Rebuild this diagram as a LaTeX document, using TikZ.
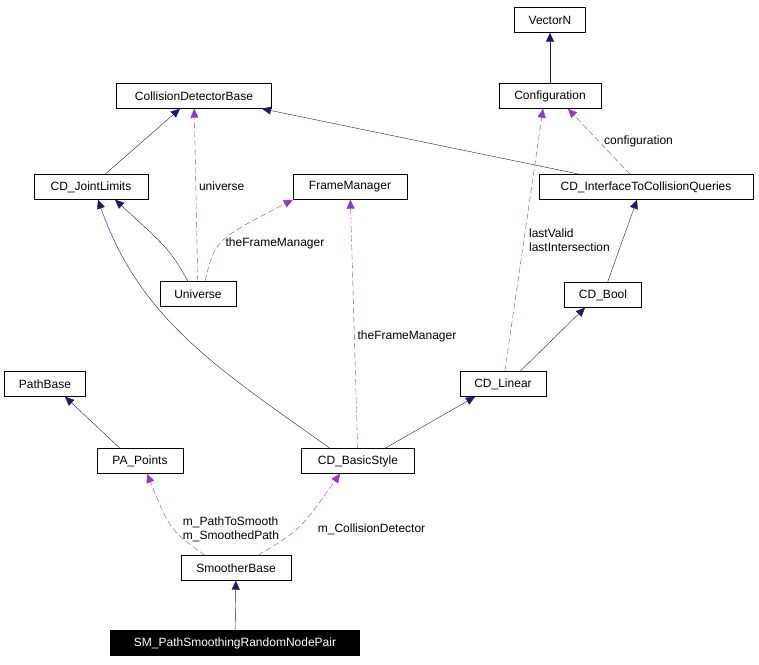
\documentclass[tikz,border=0pt]{standalone}
\usepackage{fontspec}
\setmainfont{Liberation Sans}
\usetikzlibrary{arrows.meta}
\definecolor{inh}{HTML}{191970}
\definecolor{use}{HTML}{9A32CD}
\tikzset{
  cls/.style={draw,fill=white,inner sep=0pt,minimum height=25pt,font=\fontsize{12}{14}\selectfont},
  base/.style={draw=inh,-{Triangle[length=9pt,width=8pt,fill=inh]}},
  uses/.style={draw=use,dash pattern=on 6pt off 3pt,-{Triangle[length=9pt,width=8pt,fill=use]}},
  lbl/.style={font=\fontsize{12}{14}\selectfont,align=left,inner sep=1pt}
}
\begin{document}
\begin{tikzpicture}[x=1pt,y=-1pt]
\useasboundingbox (0,0) rectangle (759,664);
% classes
\node[cls,minimum width=71pt]  (vec)  at (550,20)  {VectorN};
\node[cls,minimum width=102pt] (conf) at (550,96)  {Configuration};
\node[cls,minimum width=155pt] (cdb)  at (194,96)  {CollisionDetectorBase};
\node[cls,minimum width=114pt] (jl)   at (91,187)  {CD\_JointLimits};
\node[cls,minimum width=114pt] (fm)   at (350,187) {FrameManager};
\node[cls,minimum width=214pt] (itc)  at (646,187) {CD\_InterfaceToCollisionQueries};
\node[cls,minimum width=76pt]  (uni)  at (198,294) {Universe};
\node[cls,minimum width=77pt]  (bool) at (603,295) {CD\_Bool};
\node[cls,minimum width=81pt]  (pb)   at (45,384)  {PathBase};
\node[cls,minimum width=86pt]  (lin)  at (503,384) {CD\_Linear};
\node[cls,minimum width=86pt]  (pap)  at (140,461) {PA\_Points};
\node[cls,minimum width=113pt] (bs)   at (358,461) {CD\_BasicStyle};
\node[cls,minimum width=110pt] (sb)   at (236,568) {SmootherBase};
\node[cls,minimum width=249pt,fill=black,text=white] (sm) at (235,643) {SM\_PathSmoothingRandomNodePair};
% inheritance
\draw[base] ([xshift=14pt]jl.north) -- ([xshift=-14pt]cdb.south);
\draw[base] ([xshift=-66pt]itc.north) -- ([xshift=68pt]cdb.south);
\draw[base] (conf) -- (vec);
\draw[base] ([xshift=-10pt]uni.north) .. controls (170,250) .. ([xshift=24pt]jl.south);
\draw[base] ([xshift=-28pt]bs.north) .. controls (220,370) and (140,320) .. ([xshift=7pt]jl.south);
\draw[base] ([xshift=27pt]bs.north) -- ([xshift=-28pt]lin.south);
\draw[base] ([xshift=17pt]lin.north) -- ([xshift=-18pt]bool.south);
\draw[base] (bool) -- ([xshift=-9pt]itc.south);
\draw[base] ([xshift=-20pt]pap.north) -- ([xshift=20pt]pb.south);
\draw[base] (sm) -- (sb);
% usage
\draw[uses] (uni) -- (cdb) node[lbl,pos=0.55,right=2pt] {universe};
\draw[uses] ([xshift=7pt]uni.north) .. controls (215,240) .. (fm.south west) node[lbl,pos=0.45,right=4pt] {theFrameManager};
\draw[uses] (bs) -- (fm) node[lbl,pos=0.45,right=2pt] {theFrameManager};
\draw[uses] (lin) -- ([xshift=-7pt]conf.south) node[lbl,pos=0.5,right=4pt] {lastValid\\lastIntersection};
\draw[uses] ([xshift=-16pt]itc.north) -- ([xshift=18pt]conf.south) node[lbl,pos=0.5,right=4pt] {configuration};
\draw[uses] ([xshift=-31pt]sb.north) .. controls (170,530) .. ([xshift=7pt]pap.south) node[lbl,pos=0.45,right=8pt] {m\_PathToSmooth\\m\_SmoothedPath};
\draw[uses] ([xshift=22pt]sb.north) .. controls (300,530) .. ([xshift=-18pt]bs.south) node[lbl,pos=0.45,right=20pt] {m\_CollisionDetector};
\end{tikzpicture}
\end{document}
